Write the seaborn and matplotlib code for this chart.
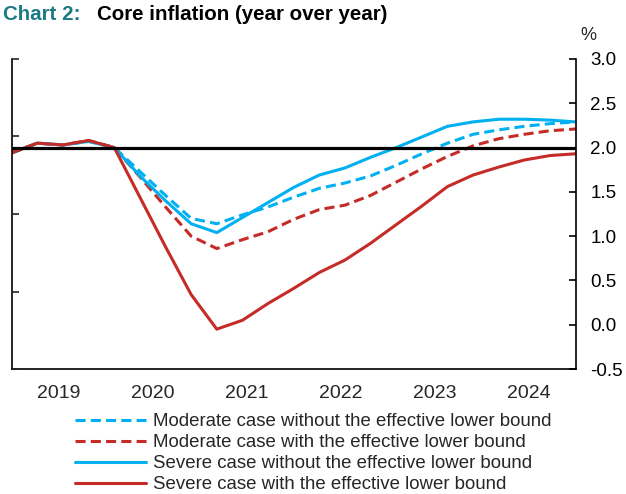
import numpy as np
import pandas as pd
import matplotlib
matplotlib.use("Agg")
import matplotlib.pyplot as plt
import seaborn as sns

# ---- data (quarterly, 2019Q1 .. 2024Q3) ----
quarter_index = list(range(23))
moderate_no_elb = [1.94, 2.05, 2.03, 2.07, 2.00, 1.73, 1.46, 1.20, 1.14, 1.24, 1.33, 1.44,
                   1.54, 1.60, 1.68, 1.80, 1.93, 2.05, 2.15, 2.20, 2.24, 2.27, 2.29]
moderate_elb = [1.94, 2.05, 2.03, 2.08, 2.00, 1.67, 1.33, 1.00, 0.86, 0.96, 1.05, 1.19,
                1.30, 1.35, 1.46, 1.61, 1.76, 1.90, 2.02, 2.10, 2.15, 2.19, 2.21]
severe_no_elb = [1.94, 2.05, 2.03, 2.07, 2.00, 1.68, 1.40, 1.14, 1.04, 1.21, 1.38, 1.55,
                 1.69, 1.77, 1.89, 2.00, 2.12, 2.24, 2.29, 2.32, 2.32, 2.31, 2.29]
severe_elb = [1.94, 2.05, 2.03, 2.08, 2.00, 1.44, 0.88, 0.34, -0.05, 0.05, 0.24, 0.41,
              0.59, 0.73, 0.92, 1.13, 1.34, 1.56, 1.69, 1.78, 1.86, 1.91, 1.93]
year_labels = ["2019", "2020", "2021", "2022", "2023", "2024"]
series_names = ["Moderate case without the effective lower bound",
                "Moderate case with the effective lower bound",
                "Severe case without the effective lower bound",
                "Severe case with the effective lower bound"]
y_ticks = [-0.5, 0.0, 0.5, 1.0, 1.5, 2.0, 2.5, 3.0]
target = 2.0

BLUE = "#00B0F0"
RED = "#C52B27"
TEAL = "#1B7A84"

sns.set_style("white")
plt.rcParams["font.family"] = ["Liberation Sans", "DejaVu Sans"]

fig = plt.figure(figsize=(6.26, 4.94), dpi=100)
L, R = 11.7 / 626, 575.7 / 626
T, B = 1 - 59 / 494, 1 - 369 / 494
ax = fig.add_axes([L, B, R - L, T - B])

# left axis: unlabelled ticks (created first, since twinx resets the host's tick side)
ax2 = ax.twinx()
ax2.set_ylim(0, 4)
ax2.set_yticks([0, 1, 2, 3, 4])
ax2.yaxis.set_ticks_position("left")
ax2.set_yticklabels([])
ax2.tick_params(axis="y", direction="in", length=5, width=1.2)
for s in ax2.spines.values():
    s.set_visible(False)

df = pd.DataFrame({
    "q": quarter_index * 4,
    "value": moderate_no_elb + moderate_elb + severe_no_elb + severe_elb,
    "series": sum([[n] * len(quarter_index) for n in series_names], []),
})

styles = {
    series_names[0]: (BLUE, (0, (3.3, 1.7))),
    series_names[1]: (RED, (0, (3.3, 1.7))),
    series_names[2]: (BLUE, "-"),
    series_names[3]: (RED, "-"),
}
handles = []
for name in series_names:
    col, ls = styles[name]
    sub = df[df["series"] == name]
    sns.lineplot(data=sub, x="q", y="value", ax=ax, color=col, linestyle=ls,
                 linewidth=2.2, legend=False)
    handles.append(ax.lines[-1])

ax.axhline(target, color="black", lw=2.3, zorder=5)

n = len(quarter_index) - 1
ax.set_xlim(0, n)
ax.set_ylim(-0.5, 3.0)
ax.set_xlabel("")
ax.set_ylabel("")

# right-hand y axis with labels
ax.yaxis.tick_right()
ax.yaxis.set_label_position("right")
ax.set_yticks(y_ticks)
ax.set_yticklabels([f"{v:.1f}" for v in y_ticks])
ax.tick_params(axis="y", which="major", direction="in", length=5, width=1.2,
               labelsize=13.5, pad=10.5, colors="black", left=False, labelleft=False,
               right=True, labelright=True)

# x axis: ticks at year boundaries, labels centered
nyear = len(year_labels)
bounds = [n * k / nyear for k in range(1, nyear)]
centers = [n * (k + 0.5) / nyear for k in range(nyear)]
ax.set_xticks(bounds)
ax.set_xticklabels([])
ax.set_xticks(centers, minor=True)
ax.set_xticklabels(year_labels, minor=True)
ax.tick_params(axis="x", which="major", direction="in", length=5, width=1.2)
ax.tick_params(axis="x", which="minor", length=0, labelsize=14, pad=11.5)

for s in ["left", "right", "bottom"]:
    ax.spines[s].set_visible(True)
    ax.spines[s].set_color("black")
    ax.spines[s].set_linewidth(1.2)
ax.spines["top"].set_visible(False)

fig.text(588 / 626, 1 - 36 / 494, "%", fontsize=13, ha="center", va="center")

fig.text(3 / 626, 1 - 14 / 494, "Chart 2:", fontsize=14.8, fontweight="bold",
         color=TEAL, ha="left", va="center")
fig.text(97 / 626, 1 - 14 / 494, "Core inflation (year over year)", fontsize=14.8,
         fontweight="bold", color="black", ha="left", va="center")

fig.legend(handles, series_names, loc="upper left",
           bbox_to_anchor=(75 / 626, 1 - 413 / 494), frameon=False,
           fontsize=13.4, handlelength=3.8, handletextpad=0.4, labelspacing=0.22,
           borderpad=0, borderaxespad=0)

fig.savefig("out.png", dpi=100)
